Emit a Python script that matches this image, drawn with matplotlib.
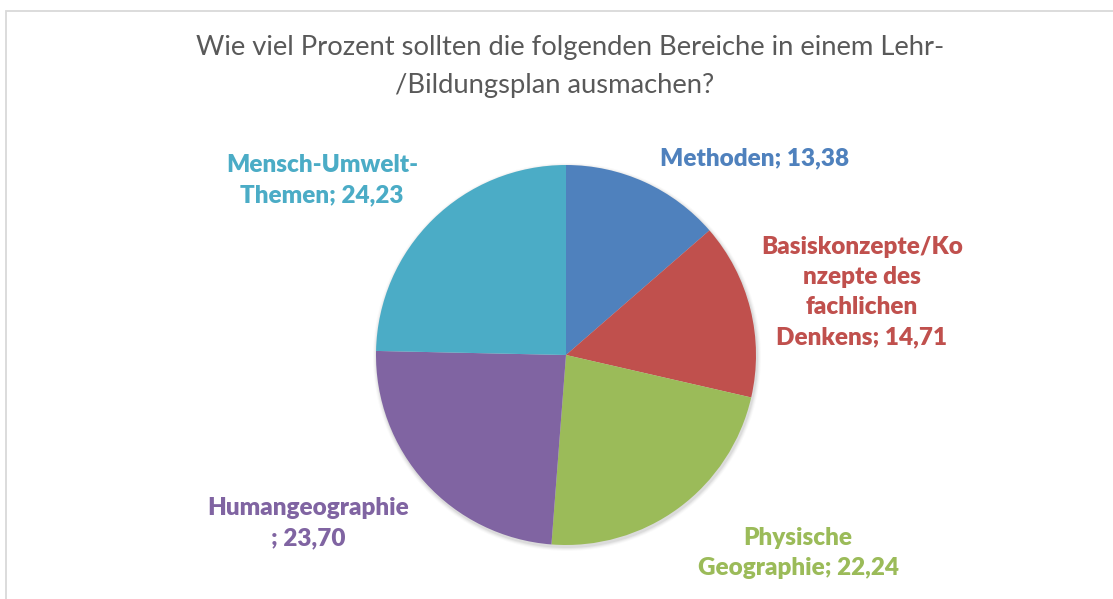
import matplotlib
matplotlib.use("Agg")
import matplotlib.pyplot as plt
from matplotlib.patches import Rectangle

categories = ["Methoden", "Basiskonzepte/Konzepte des fachlichen Denkens",
              "Physische Geographie", "Humangeographie", "Mensch-Umwelt-Themen"]
values = [13.38, 14.71, 22.24, 23.70, 24.23]
label_texts = ["Methoden; 13,38",
               "Basiskonzepte/Ko\nnzepte des\nfachlichen\nDenkens; 14,71",
               "Physische\nGeographie; 22,24",
               "Humangeographie\n; 23,70",
               "Mensch-Umwelt-\nThemen; 24,23"]
colors = ["#4F81BD", "#C0504D", "#9BBB59", "#8064A2", "#4BACC6"]
title_lines = ["Wie viel Prozent sollten die folgenden Bereiche in einem Lehr-",
               "/Bildungsplan ausmachen?"]

W, H = 1113, 599
fig = plt.figure(figsize=(W / 100, H / 100), dpi=100)
ax = fig.add_axes([0, 0, 1, 1])

# chart frame
ax.add_patch(Rectangle((5.5, -10), W + 20, H - 10.5 + 10, fill=False,
                       edgecolor="#D9D9D9", linewidth=1.3))

cx, cy, r = 566, H - 355, 190
# soft shadow
for i, a in enumerate([0.05, 0.04, 0.03, 0.02]):
    ax.add_patch(plt.Circle((cx + 1, cy - 2), r + 1 + i, color="black", alpha=a, lw=0))

ax.pie(values, colors=colors, startangle=90, counterclock=False,
       center=(cx, cy), radius=r, frame=True,
       wedgeprops=dict(linewidth=0))
ax.set_xlim(0, W)
ax.set_ylim(0, H)
ax.set_aspect("equal")
ax.axis("off")

font = "Lato"
ax.text(570.5, H - 48, title_lines[0], ha="center", va="center", fontsize=19.7,
        color="#595959", family=font)
ax.text(555, H - 85, title_lines[1], ha="center", va="center", fontsize=19.7,
        color="#595959", family=font)

pos = [(755, 158), (862, 292), (798, 553), (308, 523), (322, 180)]
for (x, y), t, c in zip(pos, label_texts, colors):
    ax.text(x, H - y, t, ha="center", va="center", fontsize=17.5, fontweight="heavy",
            color=c, family=font, linespacing=1.45)

fig.savefig("out.png", dpi=100)
